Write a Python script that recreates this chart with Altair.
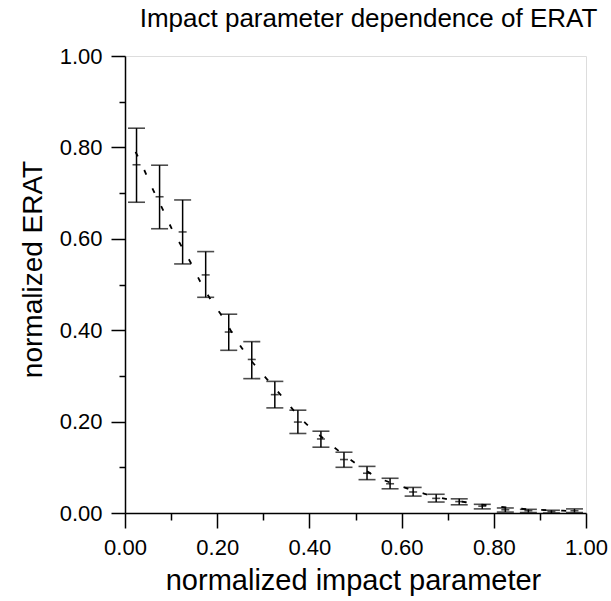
import altair as alt
import pandas as pd

# Binned measurements (bin centre, value, lower, upper)
bin_x = [0.025, 0.075, 0.125, 0.175, 0.225, 0.275, 0.325, 0.375, 0.425, 0.475,
         0.525, 0.575, 0.625, 0.675, 0.725, 0.775, 0.825, 0.875, 0.925, 0.975]
erat = [0.762, 0.692, 0.615, 0.521, 0.396, 0.336, 0.259, 0.199, 0.162, 0.117,
        0.087, 0.064, 0.046, 0.032, 0.025, 0.015, 0.007, 0.005, 0.003, 0.005]
erat_lo = [0.680, 0.622, 0.545, 0.472, 0.356, 0.294, 0.230, 0.174, 0.144, 0.100,
           0.073, 0.053, 0.037, 0.024, 0.018, 0.009, 0.002, 0.001, 0.000, 0.001]
erat_hi = [0.842, 0.761, 0.685, 0.572, 0.435, 0.375, 0.288, 0.225, 0.179, 0.133,
           0.102, 0.076, 0.056, 0.041, 0.031, 0.019, 0.011, 0.008, 0.006, 0.009]

# Dashed curve
curve_x = [0.023, 0.042, 0.061, 0.081, 0.101, 0.123, 0.145, 0.166, 0.189, 0.213,
           0.239, 0.264, 0.293, 0.322, 0.352, 0.384, 0.420, 0.452, 0.490, 0.540,
           0.600, 0.650, 0.700, 0.750, 0.800, 0.850, 0.900, 0.950, 0.980]
curve_y = [0.790, 0.750, 0.707, 0.666, 0.623, 0.583, 0.543, 0.501, 0.462, 0.427,
           0.383, 0.346, 0.310, 0.277, 0.241, 0.204, 0.172, 0.145, 0.116, 0.082,
           0.058, 0.042, 0.030, 0.022, 0.015, 0.010, 0.007, 0.005, 0.004]

tick_vals = [0.0, 0.1, 0.2, 0.3, 0.4, 0.5, 0.6, 0.7, 0.8, 0.9, 1.0]

pts = pd.DataFrame({"x": bin_x, "y": erat, "lo": erat_lo, "hi": erat_hi})
crv = pd.DataFrame({"x": curve_x, "y": curve_y})

FONT = "Liberation Sans"
odd = "round(datum.value*10) % 2 == 1"
lab = "round(datum.value*10) % 2 == 0 ? format(datum.value, '.2f') : ''"

xscale = alt.Scale(domain=[0, 1], nice=False, zero=False)
yscale = alt.Scale(domain=[0, 1], nice=False, zero=False)

xaxis = alt.Axis(values=tick_vals, labelExpr=lab, grid=False,
                 tickSize={"condition": {"test": odd, "value": 7}, "value": 15},
                 labelFontSize=22, labelPadding=9, labelFont=FONT,
                 labelColor="black", tickColor="black", domainColor="black",
                 tickWidth=1.5, domainWidth=1.5,
                 title="normalized impact parameter", titleFont=FONT,
                 titleFontSize=29, titleFontWeight="normal", titleColor="black",
                 titleX=228, titleY=76, titleBaseline="alphabetic",
                 titleAlign="center", labelFlush=False)
yaxis = alt.Axis(values=tick_vals, labelExpr=lab, grid=False,
                 tickSize={"condition": {"test": odd, "value": 6}, "value": 14},
                 labelFontSize=22, labelPadding=9, labelFont=FONT,
                 labelColor="black", tickColor="black", domainColor="black",
                 tickWidth=1.5, domainWidth=1.5,
                 title="normalized ERAT", titleFont=FONT,
                 titleFontSize=28, titleFontWeight="normal", titleColor="black",
                 titleAngle=-90, titleX=-92, titleY=213,
                 titleBaseline="middle", titleAlign="center", labelFlush=False)

base = alt.Chart(pts)

bars = base.mark_rule(color="black", strokeWidth=1.5).encode(
    x=alt.X("x:Q", scale=xscale, axis=xaxis),
    y=alt.Y("lo:Q", scale=yscale, axis=yaxis),
    y2="hi:Q",
)
cap_hi = base.mark_tick(color="black", orient="horizontal", size=17, thickness=1.6).encode(
    x="x:Q", y="hi:Q")
cap_lo = base.mark_tick(color="black", orient="horizontal", size=17, thickness=1.6).encode(
    x="x:Q", y="lo:Q")
centre = base.mark_tick(color="black", orient="horizontal", size=8, thickness=1.6).encode(
    x="x:Q", y="y:Q")

curve = alt.Chart(crv).mark_line(color="black", strokeWidth=1.8,
                                 strokeDash=[5, 15], interpolate="monotone").encode(
    x="x:Q", y="y:Q")

chart = alt.layer(curve, bars, cap_hi, cap_lo, centre).properties(
    width=461, height=457,
    autosize=alt.AutoSizeParams(type="none"),
    padding={"left": 125, "top": 56, "right": 25, "bottom": 88},
    title=alt.Title("Impact parameter dependence of ERAT", font=FONT,
                    fontSize=26, fontWeight="normal", color="black",
                    anchor="middle", frame="group", offset=-8,
                    baseline="alphabetic", dx=13),
).configure_view(stroke=None).configure(background="white")

chart.save("out.html", embed_options={"renderer": "svg", "actions": False})
